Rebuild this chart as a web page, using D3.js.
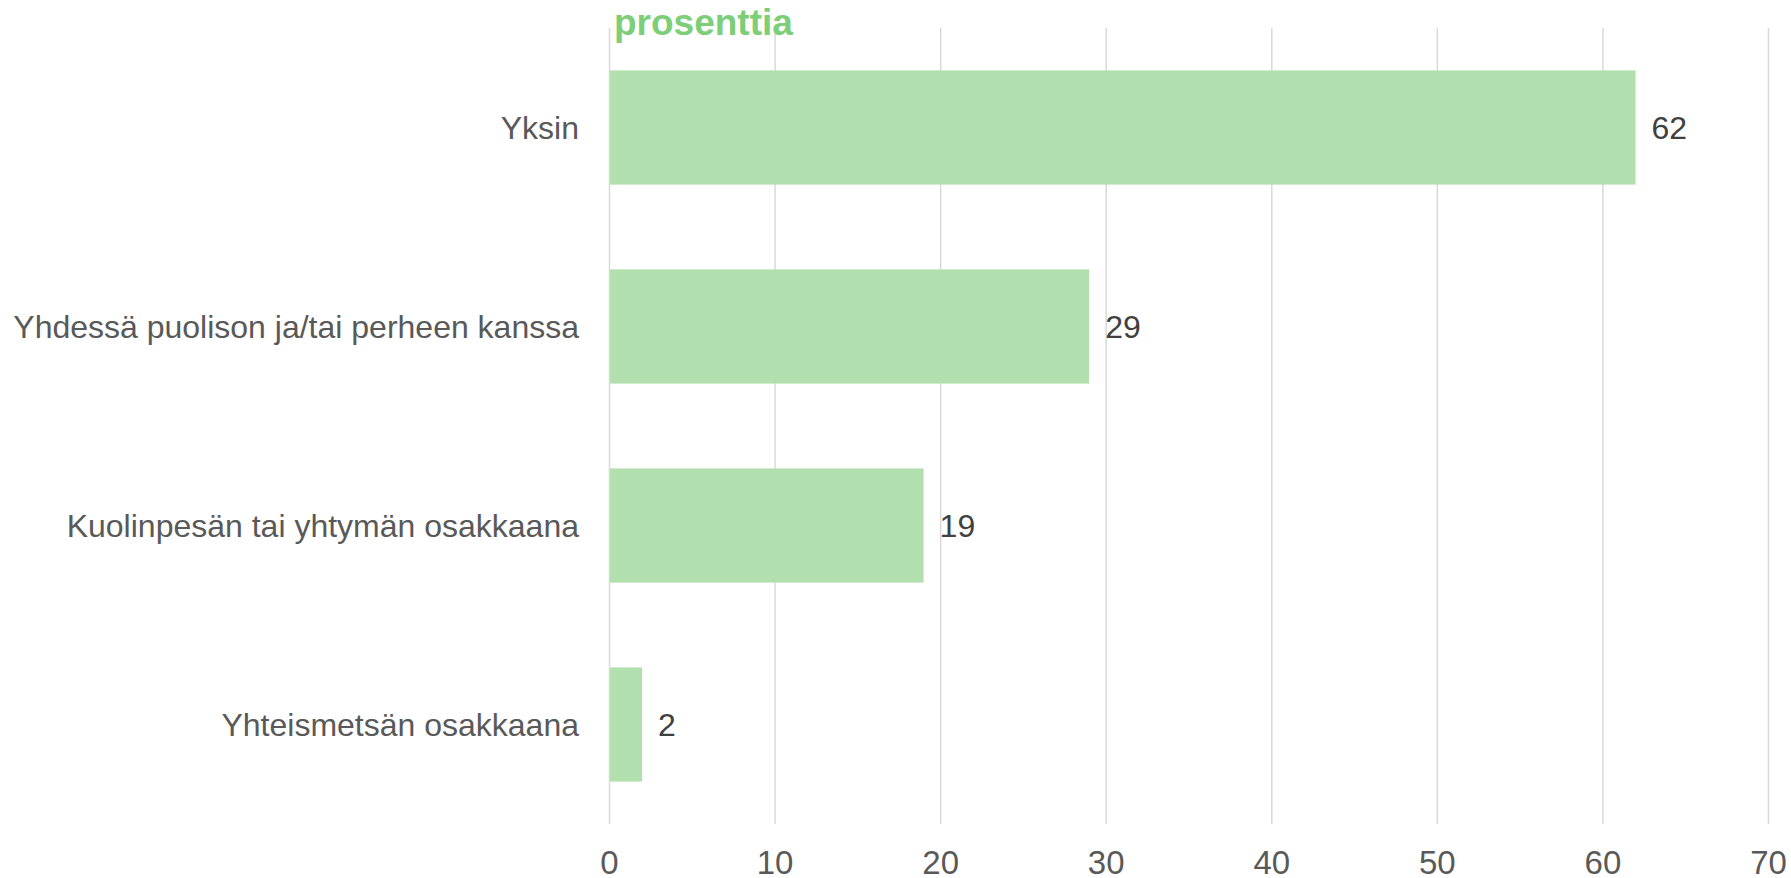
<!DOCTYPE html>
<html>
<head>
    <meta charset="utf-8"/>
    <script src="https://d3js.org/d3.v7.min.js"></script>
    <style>
        body { margin: 0; background: #ffffff; font-family: "Liberation Sans", Arial, sans-serif; }
        svg { display: block; }
        .grid line { stroke: #d9d9d9; stroke-width: 1.5; }
        .grid path { display: none; }
        .grid text { fill: #595959; font-size: 33px; }
    </style>
</head>
<body>
<svg id="chart" width="1791" height="878"></svg>
<script>

    // data
    var categories = ["Yksin", "Yhdessä puolison ja/tai perheen kanssa", "Kuolinpesän tai yhtymän osakkaana", "Yhteismetsän osakkaana"];
    var values = [62, 29, 19, 2];
    var ticks = [0, 10, 20, 30, 40, 50, 60, 70];
    var unitLabel = "prosenttia";

    var svg = d3.select("#chart");

    var x = d3.scaleLinear().domain([0, 70]).range([609, 1768]);
    var y = d3.scaleBand().domain(categories).range([28, 824]).paddingInner(0.426).paddingOuter(0.213);

    // gridlines + tick labels
    var axis = d3.axisBottom(x).tickValues(ticks).tickSize(-(824 - 28)).tickPadding(20).tickFormat(d3.format("d"));
    svg.append("g").attr("class", "grid").attr("transform", "translate(0,824)").call(axis)
        .selectAll("text").attr("dy", "0.92em");

    // bars
    svg.selectAll("rect.bar").data(values).enter()
        .append("rect")
        .attr("class", "bar")
        .attr("x", x(0) + 1)
        .attr("y", function (d, i) { return y(categories[i]); })
        .attr("width", function (d) { return x(d) - x(0) - 1; })
        .attr("height", y.bandwidth())
        .attr("fill", "#b1e0ae");

    // value labels
    svg.selectAll("text.val").data(values).enter()
        .append("text")
        .attr("class", "val")
        .attr("x", function (d) { return x(d) + 16; })
        .attr("y", function (d, i) { return y(categories[i]) + y.bandwidth() / 2; })
        .attr("dy", "0.36em")
        .attr("font-size", 32)
        .attr("fill", "#404040")
        .text(function (d) { return d; });

    // category labels
    svg.selectAll("text.cat").data(categories).enter()
        .append("text")
        .attr("class", "cat")
        .attr("x", x(0) - 30)
        .attr("y", function (d) { return y(d) + y.bandwidth() / 2; })
        .attr("dy", "0.36em")
        .attr("text-anchor", "end")
        .attr("font-size", 32)
        .attr("fill", "#595959")
        .text(function (d) { return d; });

    // unit title
    svg.append("text")
        .attr("x", 614).attr("y", 35)
        .attr("font-size", 37).attr("font-weight", "bold")
        .attr("fill", "#7ccf78")
        .text(unitLabel);
</script>
</body>
</html>
